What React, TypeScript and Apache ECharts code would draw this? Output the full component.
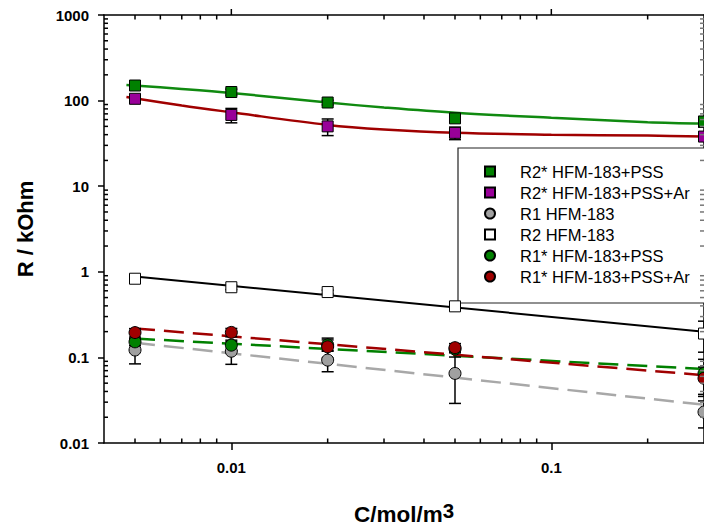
import React, { useEffect, useRef } from "react";
import * as echarts from "echarts";

// ---- data ----
const CONC = [0.005, 0.01, 0.02, 0.05, 0.3];

const R2_PSS = [150, 126, 95, 62, 57];
const R2_PSS_ERR = [12, 10, 6, 5, 8];
const R2_PSS_AR = [105, 68, 50, 42, 38];
const R2_PSS_AR_ERR = [12, 13, 11, 7, 4];
const R1_HFM = [0.122, 0.118, 0.093, 0.065, 0.023];
const R1_HFM_ERR = [0.038, 0.035, 0.025, 0.036, 0.008];
const R2_HFM = [0.83, 0.66, 0.58, 0.395, 0.19];
const R2_HFM_ERR = [0.05, 0.04, 0.03, 0.02, 0.075];
const R1_PSS = [0.152, 0.139, 0.14, 0.125, 0.065];
const R1_PSS_ERR = [0.015, 0.02, 0.02, 0.012, 0.03];
const R1_PSS_AR = [0.195, 0.196, 0.133, 0.13, 0.057];
const R1_PSS_AR_ERR = [0.022, 0.022, 0.035, 0.015, 0.02];

// fitted curves
const FIT_X = [0.0047, 0.007, 0.01, 0.02, 0.03, 0.05, 0.1, 0.2, 0.3];
const FIT_R2_PSS = [152, 137, 123, 95, 83, 72, 63, 56, 54];
const FIT_R2_PSS_AR = [110, 87.5, 73, 52, 46, 42, 40, 39, 38];

// straight (log-log) fit lines
const LINE_X = [0.005, 0.3];
const LINE_R2_HFM = [0.88, 0.2];
const LINE_R1_HFM = [0.148, 0.028];
const LINE_R1_PSS = [0.166, 0.073];
const LINE_R1_PSS_AR = [0.218, 0.062];

// axes
const X_MIN = 0.004;
const X_MAX = 0.3;
const X_TICKS = [0.01, 0.1];
const X_TICK_LABELS = ["0.01", "0.1"];
const X_MINOR = [0.005, 0.006, 0.007, 0.008, 0.009, 0.02, 0.03, 0.04, 0.05, 0.06, 0.07, 0.08, 0.09, 0.2];
const Y_MIN = 0.01;
const Y_MAX = 1000;
const Y_TICKS = [0.01, 0.1, 1, 10, 100, 1000];
const Y_TICK_LABELS = ["0.01", "0.1", "1", "10", "100", "1000"];
const Y_MINOR_MULT = [2, 3, 4, 5, 6, 7, 8, 9];

const NAMES = [
  "R2* HFM-183+PSS",
  "R2* HFM-183+PSS+Ar",
  "R1 HFM-183",
  "R2 HFM-183",
  "R1* HFM-183+PSS",
  "R1* HFM-183+PSS+Ar",
];

const FONT = 'Arial, "Liberation Sans", sans-serif';

export default function App() {
  const ref = useRef<HTMLDivElement>(null);

  useEffect(() => {
    if (!ref.current) return;
    const chart = echarts.init(ref.current, undefined, { renderer: "svg" });

    const yMinor: number[] = [];
    for (let e = -2; e < 3; e++) {
      for (const m of Y_MINOR_MULT) yMinor.push(parseFloat((m * Math.pow(10, e)).toPrecision(3)));
    }

    const labelFmt = (vals: number[], labels: string[]) => (v: number) => {
      const i = vals.findIndex((t) => Math.abs(Math.log10(t) - Math.log10(v)) < 1e-6);
      return i >= 0 ? labels[i] : "";
    };

    const lineBlack = { color: "#000", width: 1.5 };

    const xBase = {
      type: "log" as const,
      logBase: 10,
      min: X_MIN,
      max: X_MAX,
      gridIndex: 0,
      splitLine: { show: false },
    };
    const yBase = {
      type: "log" as const,
      logBase: 10,
      min: Y_MIN,
      max: Y_MAX,
      gridIndex: 0,
      splitLine: { show: false },
    };

    const xAxis: any[] = [
      {
        ...xBase,
        position: "bottom",
        axisLine: { show: true, lineStyle: lineBlack },
        axisTick: { show: true, customValues: X_TICKS, length: 7, inside: false, lineStyle: lineBlack },
        axisLabel: {
          customValues: X_TICKS,
          formatter: labelFmt(X_TICKS, X_TICK_LABELS),
          fontFamily: FONT,
          fontWeight: "bold",
          fontSize: 15,
          color: "#000",
          margin: 17,
        },
        name: "{a|C/mol/m}{b|3}",
        nameLocation: "middle",
        nameGap: 57,
        nameTextStyle: {
          rich: {
            a: { fontFamily: FONT, fontWeight: "bold", fontSize: 22.5, color: "#000" },
            b: { fontFamily: FONT, fontWeight: "bold", fontSize: 20.5, color: "#000", padding: [0, 0, 8, 0] },
          },
        },
      },
      {
        ...xBase,
        position: "top",
        axisLine: { show: true, lineStyle: lineBlack },
        axisLabel: { show: false },
        axisTick: { show: false },
      },
    ];

    const yAxis: any[] = [
      {
        ...yBase,
        position: "left",
        axisLine: { show: true, lineStyle: lineBlack },
        axisTick: { show: true, customValues: Y_TICKS, length: 6, inside: false, lineStyle: lineBlack },
        axisLabel: {
          customValues: Y_TICKS,
          formatter: labelFmt(Y_TICKS, Y_TICK_LABELS),
          fontFamily: FONT,
          fontWeight: "bold",
          fontSize: 15,
          color: "#000",
          margin: 15,
        },
        name: "R / kOhm",
        nameLocation: "middle",
        nameGap: 68,
        nameTextStyle: { fontFamily: FONT, fontWeight: "bold", fontSize: 22, color: "#000" },
      },
      {
        ...yBase,
        position: "right",
        axisLine: { show: true, lineStyle: lineBlack },
        axisLabel: { show: false },
        axisTick: { show: false },
      },
    ];

    const pts = (ys: number[], xs: number[] = CONC) => xs.map((x, i) => [x, ys[i]]);
    const errData = (ys: number[], es: number[]) =>
      CONC.map((x, i) => [x, Math.max(ys[i] - es[i], Y_MIN * 1.0001), ys[i] + es[i]]);

    const tickStyle = { stroke: "#000", lineWidth: 1.5 };

    // x ticks on the top/bottom frame: kind 0 = minor (inward), 1 = major (outward, top only)
    const xTickSeries = {
      type: "custom",
      xAxisIndex: 0,
      yAxisIndex: 0,
      z: 5,
      silent: true,
      clip: false,
      encode: { x: 0, y: 1 },
      data: [
        ...X_MINOR.map((v) => [v, Y_MIN, 0]),
        ...X_TICKS.map((v) => [v, Y_MIN, 1]),
      ],
      renderItem: (_p: any, api: any) => {
        const x = api.value(0);
        const kind = api.value(2);
        const b = api.coord([x, Y_MIN]);
        const t = api.coord([x, Y_MAX]);
        if (kind === 1) {
          return {
            type: "line",
            shape: { x1: t[0], y1: t[1], x2: t[0], y2: t[1] - 6 },
            style: tickStyle,
          };
        }
        return {
          type: "group",
          children: [
            { type: "line", shape: { x1: b[0], y1: b[1], x2: b[0], y2: b[1] - 4.5 }, style: tickStyle },
            { type: "line", shape: { x1: t[0], y1: t[1], x2: t[0], y2: t[1] + 4.5 }, style: tickStyle },
          ],
        };
      },
    };

    // y ticks on the left/right frame: minor inward on both sides, major outward on the right
    const yTickSeries = {
      type: "custom",
      xAxisIndex: 0,
      yAxisIndex: 0,
      z: 5,
      silent: true,
      clip: false,
      encode: { x: 0, y: 1 },
      data: [
        ...yMinor.map((v) => [X_MIN, v, 0]),
        ...Y_TICKS.map((v) => [X_MIN, v, 1]),
      ],
      renderItem: (_p: any, api: any) => {
        const y = api.value(1);
        const kind = api.value(2);
        const l = api.coord([X_MIN, y]);
        const r = api.coord([X_MAX, y]);
        if (kind === 1) {
          return {
            type: "line",
            shape: { x1: r[0], y1: r[1], x2: r[0] + 6, y2: r[1] },
            style: tickStyle,
          };
        }
        return {
          type: "group",
          children: [
            { type: "line", shape: { x1: l[0], y1: l[1], x2: l[0] + 4, y2: l[1] }, style: tickStyle },
            { type: "line", shape: { x1: r[0], y1: r[1], x2: r[0] - 4, y2: r[1] }, style: { stroke: "#777", lineWidth: 1.5 } },
          ],
        };
      },
    };

    const errSeries = (ys: number[], es: number[]) => ({
      type: "custom",
      xAxisIndex: 0,
      yAxisIndex: 0,
      z: 3,
      silent: true,
      encode: { x: 0, y: [1, 2] },
      data: errData(ys, es),
      renderItem: (_p: any, api: any) => {
        const x = api.value(0);
        const top = api.coord([x, api.value(2)]);
        const bot = api.coord([x, api.value(1)]);
        const hw = 6;
        const st = { stroke: "#000", lineWidth: 1.5 };
        return {
          type: "group",
          children: [
            { type: "line", shape: { x1: top[0], y1: top[1], x2: bot[0], y2: bot[1] }, style: st },
            { type: "line", shape: { x1: top[0] - hw, y1: top[1], x2: top[0] + hw, y2: top[1] }, style: st },
            { type: "line", shape: { x1: bot[0] - hw, y1: bot[1], x2: bot[0] + hw, y2: bot[1] }, style: st },
          ],
        };
      },
    });

    const scatter = (name: string, ys: number[], symbol: string, color: string, size: number) => ({
      type: "scatter",
      name,
      xAxisIndex: 0,
      yAxisIndex: 0,
      z: 4,
      symbol,
      symbolSize: size,
      itemStyle: { color, borderColor: "#000", borderWidth: 1, opacity: 1 },
      data: pts(ys),
    });

    const fit = (ys: number[], xs: number[], color: string, width: number, dashed: boolean, smooth: boolean) => ({
      type: "line",
      xAxisIndex: 0,
      yAxisIndex: 0,
      z: 2,
      silent: true,
      symbol: "none",
      showSymbol: false,
      smooth: smooth ? 0.35 : false,
      lineStyle: { color, width, type: dashed ? [20, 9] : "solid" },
      data: pts(ys, xs),
    });

    const GREEN = "#008000";
    const MAGENTA = "#990099";
    const RED = "#a00000";
    const GRAY = "#a0a0a0";

    const series: any[] = [
      xTickSeries,
      yTickSeries,
      fit(FIT_R2_PSS, FIT_X, "#108a10", 2.5, false, true),
      fit(FIT_R2_PSS_AR, FIT_X, RED, 2.5, false, true),
      fit(LINE_R2_HFM, LINE_X, "#000", 2, false, false),
      fit(LINE_R1_HFM, LINE_X, "#a8a8a8", 2.5, true, false),
      fit(LINE_R1_PSS, LINE_X, GREEN, 2.5, true, false),
      fit(LINE_R1_PSS_AR, LINE_X, RED, 2.5, true, false),
      errSeries(R2_PSS, R2_PSS_ERR),
      errSeries(R2_PSS_AR, R2_PSS_AR_ERR),
      errSeries(R1_HFM, R1_HFM_ERR),
      errSeries(R2_HFM, R2_HFM_ERR),
      errSeries(R1_PSS, R1_PSS_ERR),
      errSeries(R1_PSS_AR, R1_PSS_AR_ERR),
      scatter(NAMES[0], R2_PSS, "rect", GREEN, 11),
      scatter(NAMES[1], R2_PSS_AR, "rect", MAGENTA, 11),
      scatter(NAMES[2], R1_HFM, "circle", GRAY, 12),
      scatter(NAMES[3], R2_HFM, "rect", "#ffffff", 11),
      scatter(NAMES[4], R1_PSS, "circle", GREEN, 12),
      scatter(NAMES[5], R1_PSS_AR, "circle", RED, 12),
    ];

    chart.setOption({
      animation: false,
      backgroundColor: "#ffffff",
      grid: { left: 104, top: 15, width: 603, height: 430, containLabel: false },
      xAxis,
      yAxis,
      legend: {
        data: NAMES,
        orient: "vertical",
        left: 458,
        top: 148,
        padding: [15, 60, 18, 26],
        itemGap: 4,
        itemWidth: 10,
        itemHeight: 10,
        borderColor: "#222",
        borderWidth: 1.2,
        backgroundColor: "#ffffff",
        selectedMode: false,
        textStyle: {
          fontFamily: FONT,
          fontSize: 16.5,
          lineHeight: 16,
          color: "#000",
          padding: [0, 0, 0, 20],
        },
      },
      series,
    });

    return () => chart.dispose();
  }, []);

  return (
    <div
      ref={ref}
      style={{ position: "absolute", left: 0, top: 0, width: 704, height: 531, background: "#fff" }}
    />
  );
}
